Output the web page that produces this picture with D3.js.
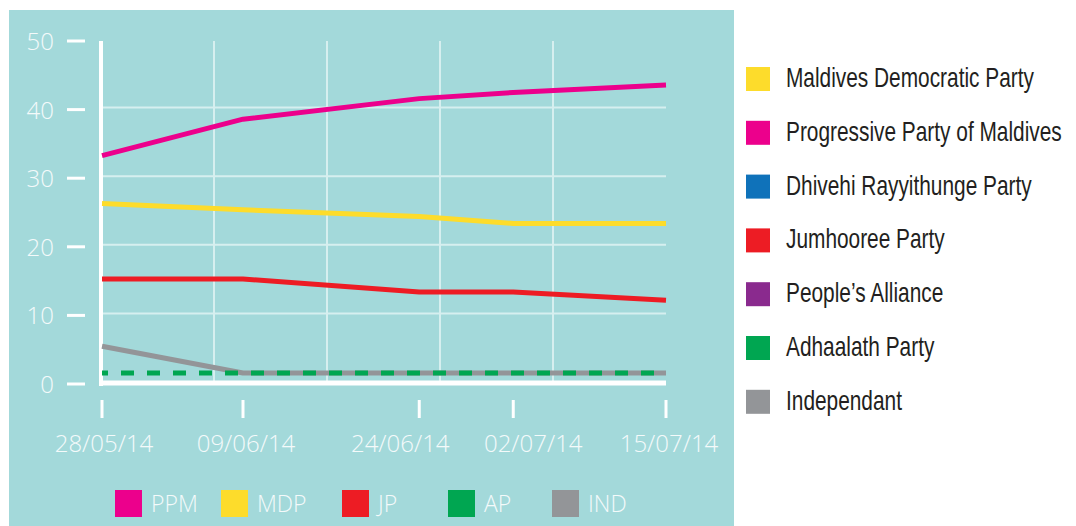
<!DOCTYPE html>
<html><head><meta charset="utf-8">
<script src="https://cdn.jsdelivr.net/npm/d3@7"></script>
<style>body{margin:0;background:#fff;}svg{display:block;}</style>
</head><body><svg id="c" width="1076" height="526"></svg>
<script>
const dates = ["28/05/14","09/06/14","24/06/14","02/07/14","15/07/14"];
const yTicks = [0,10,20,30,40,50];
const PPM = [33.3, 38.6, 41.6, 42.5, 43.6];
const MDP = [26.3, 25.4, 24.4, 23.4, 23.4];
const JP  = [15.3, 15.3, 13.4, 13.4, 12.2];
const AP  = [1.6, 1.6, 1.6, 1.6, 1.6];
const IND = [5.5, 1.6, 1.6, 1.6, 1.6];
const bottomLegend = ["PPM","MDP","JP","AP","IND"];
const sideLegend = ["Maldives Democratic Party","Progressive Party of Maldives","Dhivehi Rayyithunge Party","Jumhooree Party","People’s Alliance","Adhaalath Party","Independant"];
const colors = {PPM:"#EC008C",MDP:"#FDDC2B",JP:"#ED1C24",AP:"#00A651",IND:"#939598"};
const sideColors = ["#FDDC2B","#EC008C","#0F72BA","#ED1C24","#8A2A8E","#00A651","#939598"];

const svg = d3.select("#c");
svg.append("rect").attr("x",9).attr("y",10).attr("width",725).attr("height",516).attr("fill","#A3D9DA");

const parse = d3.timeParse("%d/%m/%y");
const dd = dates.map(parse);
const x = d3.scaleTime().domain([dd[0], dd[dd.length-1]]).range([102,666]);
const y = d3.scaleLinear().domain([0,50]).range([384,41]);
const g = svg.append("g");

// grid
const gridX = d3.range(6).map(i => 101 + i*(666-101)/5);
g.selectAll(".vg").data(gridX.slice(1,5)).enter().append("line")
  .attr("x1",d=>d).attr("x2",d=>d).attr("y1",y(50)).attr("y2",y(0))
  .attr("stroke","#D6EFEF").attr("stroke-width",2);
g.selectAll(".hg").data(yTicks.filter(v=>v>0&&v<50)).enter().append("line")
  .attr("x1",101).attr("x2",666).attr("y1",d=>y(d)-2).attr("y2",d=>y(d)-2)
  .attr("stroke","#D6EFEF").attr("stroke-width",2);

// axes
g.append("line").attr("x1",101).attr("x2",101).attr("y1",y(50)).attr("y2",y(0)+2).attr("stroke","#fff").attr("stroke-width",4);
g.append("line").attr("x1",99).attr("x2",666).attr("y1",y(0)-1).attr("y2",y(0)-1).attr("stroke","#fff").attr("stroke-width",5);

const tf = "'Open Sans', 'Roboto', sans-serif";
g.selectAll(".yt").data(yTicks).enter().append("line")
  .attr("x1",67).attr("x2",85).attr("y1",d=>y(d)).attr("y2",d=>y(d))
  .attr("stroke","#fff").attr("stroke-width",3);
g.selectAll(".yl").data(yTicks).enter().append("text")
  .attr("x",54).attr("y",d=>y(d)+9).attr("text-anchor","end")
  .attr("font-family",tf).attr("font-weight",300).attr("font-size",24).attr("fill","#F4FAFA").text(d=>d);

g.selectAll(".xt").data(dd).enter().append("line")
  .attr("x1",d=>x(d)).attr("x2",d=>x(d)).attr("y1",400).attr("y2",418)
  .attr("stroke","#fff").attr("stroke-width",3);
const labelShift = [2,3,-19,20,3];
g.selectAll(".xl").data(dd).enter().append("text")
  .attr("x",(d,i)=>x(d)+labelShift[i]).attr("y",452).attr("text-anchor","middle")
  .attr("font-family",tf).attr("font-weight",300).attr("font-size",24).attr("fill","#F4FAFA")
  .text((d,i)=>dates[i]);

// lines
const line = d3.line().x((d,i)=>x(dd[i])).y(d=>y(d));
const series = [["IND",IND,null],["AP",AP,"13,13"],["JP",JP,null],["MDP",MDP,null],["PPM",PPM,null]];
series.forEach(([k,vals,dash])=>{
  const p = g.append("path").datum(vals).attr("d",line).attr("fill","none")
    .attr("stroke",colors[k]).attr("stroke-width",5).attr("stroke-linejoin","round");
  if(dash) p.attr("stroke-dasharray",dash).attr("stroke-dashoffset",7);
});

// bottom legend
const blx = [115,221,342,448,552];
const bl = g.selectAll(".bl").data(bottomLegend).enter().append("g");
bl.append("rect").attr("x",(d,i)=>blx[i]).attr("y",490).attr("width",27).attr("height",27).attr("fill",d=>colors[d]);
bl.append("text").attr("x",(d,i)=>blx[i]+36).attr("y",512)
  .attr("font-family",tf).attr("font-weight",300).attr("font-size",23).attr("fill","#F4FAFA").text(d=>d);

// side legend (condensed face emulated by horizontal squeeze)
const sl = g.selectAll(".sl").data(sideLegend).enter().append("g");
sl.append("rect").attr("x",746).attr("y",(d,i)=>67+i*53.8).attr("width",24).attr("height",24).attr("fill",(d,i)=>sideColors[i]);
const st = sl.append("text").attr("x",0).attr("y",0)
  .attr("font-family","'Liberation Sans','Arial',sans-serif").attr("font-size",27)
  .attr("fill","#231F20").text(d=>d);
const ref = st.filter((d,i)=>i===1).node().getComputedTextLength();
const sx = 276/ref;
st.attr("transform",(d,i)=>`translate(786,${67+i*53.8+20}) scale(${sx},1)`);
</script></body></html>
